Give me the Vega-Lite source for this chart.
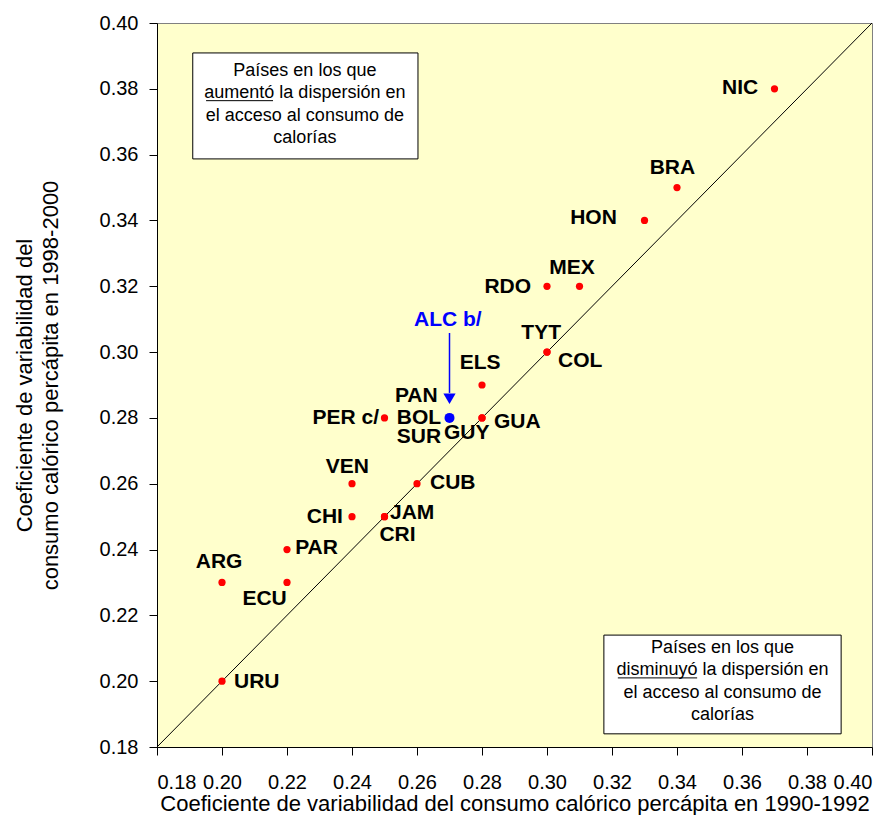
{
  "$schema": "https://vega.github.io/schema/vega-lite/v6.json",
  "width": 715,
  "height": 724,
  "autosize": {"type": "none"},
  "padding": {"left": 157, "top": 23, "right": 24, "bottom": 68},
  "background": "white",
  "config": {
    "view": {"fill": "#FFFFCC", "stroke": "#808080", "strokeWidth": 1},
    "axis": {
      "grid": false,
      "domainColor": "black",
      "tickColor": "black",
      "tickSize": 8,
      "labelFont": "Liberation Sans",
      "labelFontSize": 20,
      "labelColor": "black",
      "titleFont": "Liberation Sans",
      "titleFontSize": 22,
      "titleFontWeight": "normal",
      "titleColor": "black"
    }
  },
  "datasets": {
    "countries": [
      {"code": "NIC", "x": 0.37, "y": 0.38, "lx": 0.365, "ly": 0.3803, "anchor": "right"},
      {"code": "BRA", "x": 0.34, "y": 0.35, "lx": 0.3386, "ly": 0.356, "anchor": "center"},
      {"code": "HON", "x": 0.33, "y": 0.34, "lx": 0.3215, "ly": 0.3408, "anchor": "right"},
      {"code": "MEX", "x": 0.31, "y": 0.32, "lx": 0.3077, "ly": 0.3256, "anchor": "center"},
      {"code": "RDO", "x": 0.30, "y": 0.32, "lx": 0.2951, "ly": 0.3198, "anchor": "right"},
      {"code": "TYT", "x": 0.30, "y": 0.30, "lx": 0.2982, "ly": 0.3058, "anchor": "center"},
      {"code": "COL", "x": 0.30, "y": 0.30, "lx": 0.3034, "ly": 0.2973, "anchor": "left"},
      {"code": "ELS", "x": 0.28, "y": 0.29, "lx": 0.2794, "ly": 0.2967, "anchor": "center"},
      {"code": "GUA", "x": 0.28, "y": 0.28, "lx": 0.2837, "ly": 0.2788, "anchor": "left"},
      {"code": "GUY", "x": 0.28, "y": 0.28, "lx": 0.2683, "ly": 0.2754, "anchor": "left"},
      {"code": "PER c/", "x": 0.25, "y": 0.28, "lx": 0.2483, "ly": 0.28, "anchor": "right"},
      {"code": "PAN", "x": 0.27, "y": 0.28, "lx": 0.2532, "ly": 0.2867, "anchor": "left"},
      {"code": "BOL", "x": 0.27, "y": 0.28, "lx": 0.2538, "ly": 0.28, "anchor": "left"},
      {"code": "SUR", "x": 0.27, "y": 0.28, "lx": 0.2538, "ly": 0.2742, "anchor": "left"},
      {"code": "CUB", "x": 0.26, "y": 0.26, "lx": 0.264, "ly": 0.2602, "anchor": "left"},
      {"code": "VEN", "x": 0.24, "y": 0.26, "lx": 0.2386, "ly": 0.2651, "anchor": "center"},
      {"code": "CHI", "x": 0.24, "y": 0.25, "lx": 0.2372, "ly": 0.2499, "anchor": "right"},
      {"code": "JAM", "x": 0.25, "y": 0.25, "lx": 0.2517, "ly": 0.2511, "anchor": "left"},
      {"code": "CRI", "x": 0.25, "y": 0.25, "lx": 0.254, "ly": 0.2444, "anchor": "center"},
      {"code": "PAR", "x": 0.22, "y": 0.24, "lx": 0.2225, "ly": 0.2405, "anchor": "left"},
      {"code": "ARG", "x": 0.20, "y": 0.23, "lx": 0.1991, "ly": 0.2362, "anchor": "center"},
      {"code": "ECU", "x": 0.22, "y": 0.23, "lx": 0.2131, "ly": 0.225, "anchor": "center"},
      {"code": "URU", "x": 0.20, "y": 0.20, "lx": 0.2037, "ly": 0.1998, "anchor": "left"}
    ],
    "alc": [
      {"code": "ALC b/", "x": 0.27, "y": 0.28, "lx": 0.2695, "ly": 0.3098, "ay1": 0.3058, "ay2": 0.2876, "ty": 0.2858}
    ],
    "diag": [
      {"x": 0.18, "y": 0.18},
      {"x": 0.40, "y": 0.40}
    ],
    "boxes": [
      {"x1": 0.191, "x2": 0.2603, "y1": 0.3587, "y2": 0.3909, "cx": 0.2255, "ty": 0.384, "ux1": 0.1951, "ux2": 0.2157, "uy": 0.3764, "text": "Países en los que\naumentó la dispersión en\nel acceso al consumo de\ncalorías"},
      {"x1": 0.3175, "x2": 0.3905, "y1": 0.184, "y2": 0.214, "cx": 0.354, "ty": 0.2086, "ux1": 0.3218, "ux2": 0.3462, "uy": 0.201, "text": "Países en los que\ndisminuyó la dispersión en\nel acceso al consumo de\ncalorías"}
    ]
  },
  "layer": [
    {
      "data": {"name": "boxes"},
      "mark": {"type": "rect", "fill": "white", "stroke": "black", "strokeWidth": 1},
      "encoding": {
        "x": {"field": "x1", "type": "quantitative", "scale": {"domain": [0.18, 0.40], "nice": false, "zero": false},
          "axis": {"values": [0.18, 0.20, 0.22, 0.24, 0.26, 0.28, 0.30, 0.32, 0.34, 0.36, 0.38, 0.40], "format": ".2f", "labelPadding": 17, "titlePadding": 1,
            "title": "Coeficiente de variabilidad del consumo calórico percápita en 1990-1992"}},
        "x2": {"field": "x2"},
        "y": {"field": "y1", "type": "quantitative", "scale": {"domain": [0.18, 0.40], "nice": false, "zero": false},
          "axis": {"values": [0.18, 0.20, 0.22, 0.24, 0.26, 0.28, 0.30, 0.32, 0.34, 0.36, 0.38, 0.40], "format": ".2f", "labelPadding": 11, "titlePadding": 37, "titleLineHeight": 26,
            "title": ["Coeficiente de variabilidad del", "consumo calórico percápita en 1998-2000"]}},
        "y2": {"field": "y2"}
      }
    },
    {
      "data": {"name": "boxes"},
      "mark": {"type": "text", "font": "Liberation Sans", "fontSize": 18, "lineBreak": "\n", "lineHeight": 22.5, "align": "center", "baseline": "alphabetic", "color": "black"},
      "encoding": {
        "x": {"field": "cx", "type": "quantitative"},
        "y": {"field": "ty", "type": "quantitative"},
        "text": {"field": "text"}
      }
    },
    {
      "data": {"name": "boxes"},
      "mark": {"type": "rule", "color": "black", "strokeWidth": 1},
      "encoding": {
        "x": {"field": "ux1", "type": "quantitative"},
        "x2": {"field": "ux2"},
        "y": {"field": "uy", "type": "quantitative"}
      }
    },
    {
      "data": {"name": "diag"},
      "mark": {"type": "line", "color": "black", "strokeWidth": 1},
      "encoding": {
        "x": {"field": "x", "type": "quantitative"},
        "y": {"field": "y", "type": "quantitative"}
      }
    },
    {
      "data": {"name": "countries"},
      "mark": {"type": "point", "filled": true, "color": "#FF0000", "size": 52, "opacity": 1},
      "encoding": {
        "x": {"field": "x", "type": "quantitative"},
        "y": {"field": "y", "type": "quantitative"}
      }
    },
    {
      "data": {"name": "alc"},
      "mark": {"type": "rule", "color": "#0000FF", "strokeWidth": 1.5},
      "encoding": {
        "x": {"field": "x", "type": "quantitative"},
        "y": {"field": "ay1", "type": "quantitative"},
        "y2": {"field": "ay2"}
      }
    },
    {
      "data": {"name": "alc"},
      "mark": {"type": "point", "shape": "triangle-down", "filled": true, "color": "#0000FF", "size": 150, "opacity": 1},
      "encoding": {
        "x": {"field": "x", "type": "quantitative"},
        "y": {"field": "ty", "type": "quantitative"}
      }
    },
    {
      "data": {"name": "alc"},
      "mark": {"type": "point", "filled": true, "color": "#0000FF", "size": 100, "opacity": 1},
      "encoding": {
        "x": {"field": "x", "type": "quantitative"},
        "y": {"field": "y", "type": "quantitative"}
      }
    },
    {
      "data": {"name": "alc"},
      "mark": {"type": "text", "font": "Liberation Sans", "fontWeight": "bold", "fontSize": 21, "align": "center", "baseline": "middle", "color": "#0000FF"},
      "encoding": {
        "x": {"field": "lx", "type": "quantitative"},
        "y": {"field": "ly", "type": "quantitative"},
        "text": {"field": "code"}
      }
    },
    {
      "data": {"name": "countries"},
      "transform": [{"filter": "datum.anchor === 'left'"}],
      "mark": {"type": "text", "font": "Liberation Sans", "fontWeight": "bold", "fontSize": 21, "align": "left", "baseline": "middle", "color": "black"},
      "encoding": {
        "x": {"field": "lx", "type": "quantitative"},
        "y": {"field": "ly", "type": "quantitative"},
        "text": {"field": "code"}
      }
    },
    {
      "data": {"name": "countries"},
      "transform": [{"filter": "datum.anchor === 'right'"}],
      "mark": {"type": "text", "font": "Liberation Sans", "fontWeight": "bold", "fontSize": 21, "align": "right", "baseline": "middle", "color": "black"},
      "encoding": {
        "x": {"field": "lx", "type": "quantitative"},
        "y": {"field": "ly", "type": "quantitative"},
        "text": {"field": "code"}
      }
    },
    {
      "data": {"name": "countries"},
      "transform": [{"filter": "datum.anchor === 'center'"}],
      "mark": {"type": "text", "font": "Liberation Sans", "fontWeight": "bold", "fontSize": 21, "align": "center", "baseline": "middle", "color": "black"},
      "encoding": {
        "x": {"field": "lx", "type": "quantitative"},
        "y": {"field": "ly", "type": "quantitative"},
        "text": {"field": "code"}
      }
    }
  ]
}
